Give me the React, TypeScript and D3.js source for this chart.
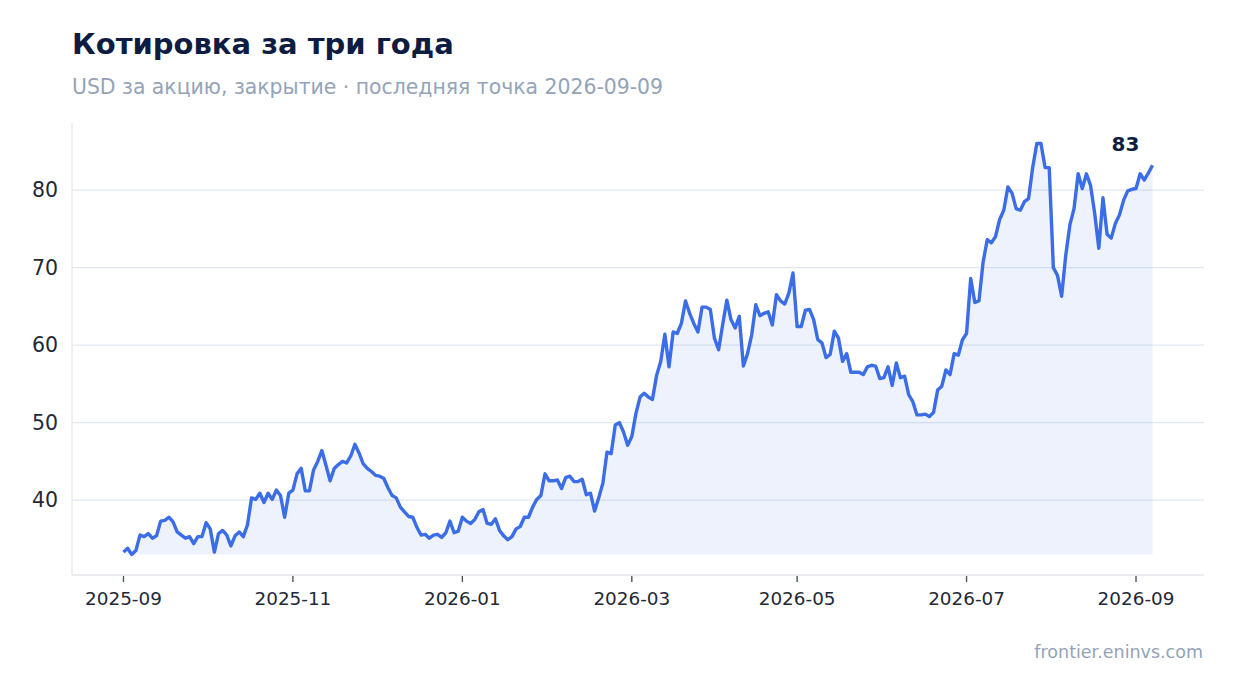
import * as React from "react";
import * as d3 from "d3";

// closing price, one sample per step
const PRICES: number[] = [
  // Sep–Oct 2025
  33.3, 33.8, 33.0, 33.5, 35.5, 35.3, 35.7, 35.1, 35.4, 37.3,
  37.4, 37.8, 37.2, 35.9, 35.5, 35.1, 35.3, 34.4, 35.3, 35.3,
  37.1, 36.3, 33.3, 35.7, 36.1, 35.5, 34.1, 35.4, 35.9, 35.3,
  36.8, 40.3, 40.1, 40.9, 39.7, 40.9, 40.1, 41.3, 40.6, 37.8,
  // Nov–Dec 2025
  40.9, 41.3, 43.4, 44.1, 41.2, 41.2, 43.9, 45.0, 46.4, 44.5,
  42.5, 44.1, 44.6, 45.0, 44.8, 45.7, 47.2, 46.1, 44.7, 44.1,
  43.7, 43.2, 43.1, 42.8, 41.6, 40.6, 40.3, 39.1, 38.5, 37.9,
  37.8, 36.5, 35.5, 35.6, 35.1, 35.5, 35.6, 35.2, 35.8, 37.3,
  35.8, 36.0,
  // Jan–Feb 2026
  37.8, 37.3, 37.0, 37.5, 38.5, 38.8, 37.0, 36.9, 37.6, 36.1,
  35.4, 34.9, 35.3, 36.3, 36.6, 37.8, 37.8, 39.1, 40.1, 40.6,
  43.4, 42.5, 42.5, 42.6, 41.5, 42.9, 43.1, 42.4, 42.4, 42.7,
  40.7, 40.9, 38.6, 40.3, 42.2, 46.2, 46.0, 49.7, 50.0, 48.8,
  47.1, 48.2,
  // Mar–Apr 2026
  51.2, 53.3, 53.8, 53.3, 53.0, 56.1, 57.9, 61.4, 57.2, 61.7,
  61.5, 62.8, 65.7, 64.1, 62.8, 61.7, 64.9, 64.9, 64.6, 60.9,
  59.4, 62.7, 65.8, 63.3, 62.2, 63.7, 57.3, 58.9, 61.3, 65.2,
  63.8, 64.1, 64.3, 62.6, 66.5, 65.7, 65.3, 66.7, 69.3,
  // May–Jun 2026
  62.4, 62.4, 64.5, 64.6, 63.3, 60.7, 60.3, 58.4, 58.8, 61.8,
  60.9, 57.9, 58.9, 56.5, 56.5, 56.5, 56.2, 57.2, 57.4, 57.3,
  55.7, 55.8, 57.2, 54.8, 57.7, 55.8, 56.0, 53.6, 52.7, 51.0,
  51.0, 51.1, 50.8, 51.3, 54.2, 54.7, 56.8, 56.2, 58.9, 58.7,
  60.7, 61.5,
  // Jul–Sep 2026
  68.6, 65.5, 65.7, 70.7, 73.6, 73.2, 74.0, 76.2, 77.4, 80.4,
  79.6, 77.6, 77.4, 78.5, 78.9, 82.9, 86.0, 86.0, 82.9, 82.9,
  70.0, 69.0, 66.3, 71.6, 75.5, 77.6, 82.1, 80.2, 82.1, 80.6,
  77.0, 72.5, 79.0, 74.3, 73.8, 75.7, 76.8, 78.7, 79.9, 80.1,
  80.2, 82.1, 81.3, 82.2, 83.2,
];

// x ticks sit on sample positions
const TICK_INDEX = [0, 41, 82, 123, 163, 204, 245];
const TICK_LABELS = ["2025-09", "2025-11", "2026-01", "2026-03", "2026-05", "2026-07", "2026-09"];
const Y_TICKS = [40, 50, 60, 70, 80];

const TITLE = "Котировка за три года";
const SUBTITLE = "USD за акцию, закрытие · последняя точка 2026-09-09";
const SOURCE = "frontier.eninvs.com";

const W = 1234;
const H = 693;
const PLOT = { left: 72, right: 1204, top: 123, bottom: 575 };
const FONT = "'DejaVu Sans', sans-serif";
const BLUE = "#3b6de6";
const NAVY = "#0f1c42";
const MUTED = "#94a3b8";

export default function App() {
  const n = PRICES.length;
  const padX = (n - 1) * 0.05;
  const x = d3
    .scaleLinear()
    .domain([-padX, n - 1 + padX])
    .range([PLOT.left, PLOT.right]);

  const [lo, hi] = d3.extent(PRICES) as [number, number];
  const padY = (hi - lo) * 0.05;
  const y = d3
    .scaleLinear()
    .domain([lo - padY, hi + padY])
    .range([PLOT.bottom, PLOT.top]);

  const line = d3
    .line<number>()
    .x((_, i) => x(i))
    .y((d) => y(d));
  const area = d3
    .area<number>()
    .x((_, i) => x(i))
    .y0(y(lo))
    .y1((d) => y(d));

  const last = PRICES[n - 1];

  return (
    <div style={{ position: "absolute", left: 0, top: 0 }}>
      <svg width={W} height={H} style={{ display: "block", background: "#fff" }} fontFamily={FONT}>
        <text x={72} y={54} fontSize={29} fontWeight="bold" fill={NAVY}>
          {TITLE}
        </text>
        <text x={72} y={94} fontSize={20.4} fill={MUTED}>
          {SUBTITLE}
        </text>

        {/* gridlines */}
        {Y_TICKS.map((t) => (
          <line key={t} x1={PLOT.left} x2={PLOT.right} y1={y(t)} y2={y(t)} stroke="#e2e7f0" strokeWidth={1.3} />
        ))}

        <path d={area(PRICES) ?? ""} fill={BLUE} fillOpacity={0.09} />
        <path d={line(PRICES) ?? ""} fill="none" stroke={BLUE} strokeWidth={3.4} strokeLinejoin="round" />

        {/* spines */}
        <line x1={PLOT.left} x2={PLOT.left} y1={PLOT.top} y2={PLOT.bottom} stroke="#e5e7eb" strokeWidth={1.3} />
        <line x1={PLOT.left} x2={PLOT.right} y1={PLOT.bottom} y2={PLOT.bottom} stroke="#e5e7eb" strokeWidth={1.3} />

        {Y_TICKS.map((t) => (
          <text key={t} x={58} y={y(t)} dy="0.35em" textAnchor="end" fontSize={20.5} fill="#1f2937">
            {t}
          </text>
        ))}

        {TICK_INDEX.map((idx, k) => (
          <g key={idx} transform={`translate(${x(idx)},${PLOT.bottom})`}>
            <line y1={1} y2={7} stroke="#4b5563" strokeWidth={1.4} />
            <text y={30} textAnchor="middle" fontSize={18.4} fill="#1f2937">
              {TICK_LABELS[k]}
            </text>
          </g>
        ))}

        <text x={x(n - 1) - 27} y={y(last) - 14} textAnchor="middle" fontSize={20} fontWeight="bold" fill={NAVY}>
          {Math.round(last)}
        </text>

        <text x={1203} y={658} textAnchor="end" fontSize={17.5} fill={MUTED}>
          {SOURCE}
        </text>
      </svg>
    </div>
  );
}
